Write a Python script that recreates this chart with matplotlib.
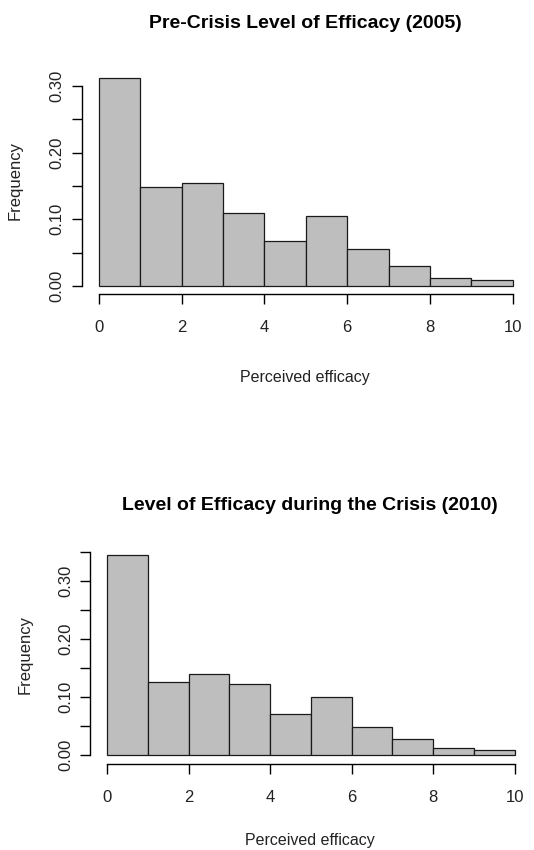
import matplotlib
matplotlib.use("Agg")
import matplotlib.pyplot as plt
import numpy as np

#==================Data========================
BIN_EDGES = [0, 1, 2, 3, 4, 5, 6, 7, 8, 9, 10]
FREQ_2005 = [0.312, 0.148, 0.155, 0.110, 0.068, 0.105, 0.055, 0.030, 0.0125, 0.0085]
FREQ_2010 = [0.344, 0.127, 0.140, 0.122, 0.071, 0.100, 0.049, 0.0275, 0.012, 0.0098]
TITLE_2005 = "Pre-Crisis Level of Efficacy (2005)"
TITLE_2010 = "Level of Efficacy during the Crisis (2010)"
X_LABEL = "Perceived efficacy"
Y_LABEL = "Frequency"
X_TICKS = [0, 2, 4, 6, 8, 10]
Y_TICKS_2005 = [0.00, 0.05, 0.10, 0.15, 0.20, 0.25, 0.30]
Y_LABELS_2005 = ["0.00", "", "0.10", "", "0.20", "", "0.30"]
Y_TICKS_2010 = [0.00, 0.05, 0.10, 0.15, 0.20, 0.25, 0.30, 0.35]
Y_LABELS_2010 = ["0.00", "", "0.10", "", "0.20", "", "0.30", ""]

#==================Layout (pixels)=============
W, H, DPI = 534, 850, 100
FONT = "Liberation Sans"
BAR_FILL = "#BEBEBE"
BAR_EDGE = "#1a1a1a"
TEXT_COLOR = "#222222"

def px2pt(p):
    return p * 72.0 / DPI

def plotHist(fig, spec):
    # x0/x10: pixel column of x=0 and x=10, y0: pixel row of y=0, ppu: pixels per unit of y
    left = spec["x0"] / W
    width = (spec["x10"] - spec["x0"]) / W
    bottom = (H - spec["y0"]) / H
    height = spec["ytop"] * spec["ppu"] / H
    ax = fig.add_axes([left, bottom, width, height])

    _, _, patches = ax.hist(BIN_EDGES[:-1], bins=BIN_EDGES, weights=spec["freqs"],
                            color=BAR_FILL, edgecolor=BAR_EDGE, linewidth=0.9)
    for p in patches:
        p.set_clip_on(False)

    ax.set_xlim(0, 10)
    ax.set_ylim(0, spec["ytop"])
    for s in ["top", "right"]:
        ax.spines[s].set_visible(False)
    ax.spines["left"].set_position(("outward", px2pt(spec["x0"] - spec["yaxis"])))
    ax.spines["bottom"].set_position(("outward", px2pt(spec["xaxis"] - spec["y0"])))
    ax.spines["left"].set_bounds(0, spec["yticks"][-1])
    ax.spines["bottom"].set_bounds(0, 10)
    for s in ["left", "bottom"]:
        ax.spines[s].set_linewidth(1.0)

    ax.set_xticks(X_TICKS)
    ax.set_xticklabels([str(t) for t in X_TICKS])
    ax.set_yticks(spec["yticks"])
    ax.set_yticklabels(spec["ylabels"])
    ax.tick_params(axis="x", length=7.5, width=1.0, pad=11.5, labelsize=12)
    ax.tick_params(axis="y", length=7.5, width=1.0, pad=5, labelsize=12, labelrotation=90)
    for lab in ax.get_yticklabels():
        lab.set_verticalalignment("center")
    for lab in ax.get_xticklabels() + ax.get_yticklabels():
        lab.set_fontfamily(FONT)
        lab.set_color(TEXT_COLOR)

    tx, ty = spec["titlePos"]
    fig.text(tx / W, 1 - ty / H, spec["title"], ha="center", va="center",
             fontsize=14, fontweight="bold", family=FONT)
    lx, ly = spec["xlabPos"]
    fig.text(lx / W, 1 - ly / H, X_LABEL, ha="center", va="center",
             fontsize=11.5, family=FONT, color=TEXT_COLOR)
    fx, fy = spec["ylabPos"]
    fig.text(fx / W, 1 - fy / H, Y_LABEL, ha="center", va="center", rotation=90,
             fontsize=12, family=FONT, color=TEXT_COLOR)
    return ax

fig = plt.figure(figsize=(W / DPI, H / DPI), dpi=DPI)
fig.patch.set_facecolor("white")

plotHist(fig, {"freqs": FREQ_2005, "yticks": Y_TICKS_2005, "ylabels": Y_LABELS_2005,
               "x0": 99, "x10": 512.7, "y0": 286, "ppu": 666.7, "ytop": 0.32,
               "yaxis": 81.7, "xaxis": 294,
               "title": TITLE_2005, "titlePos": (305, 23),
               "xlabPos": (305, 377), "ylabPos": (15, 181)})

plotHist(fig, {"freqs": FREQ_2010, "yticks": Y_TICKS_2010, "ylabels": Y_LABELS_2010,
               "x0": 107, "x10": 514.7, "y0": 755.3, "ppu": 581, "ytop": 0.36,
               "yaxis": 90.3, "xaxis": 763.7,
               "title": TITLE_2010, "titlePos": (310, 505),
               "xlabPos": (310, 840), "ylabPos": (25, 654)})

fig.savefig("out.png", dpi=DPI)
